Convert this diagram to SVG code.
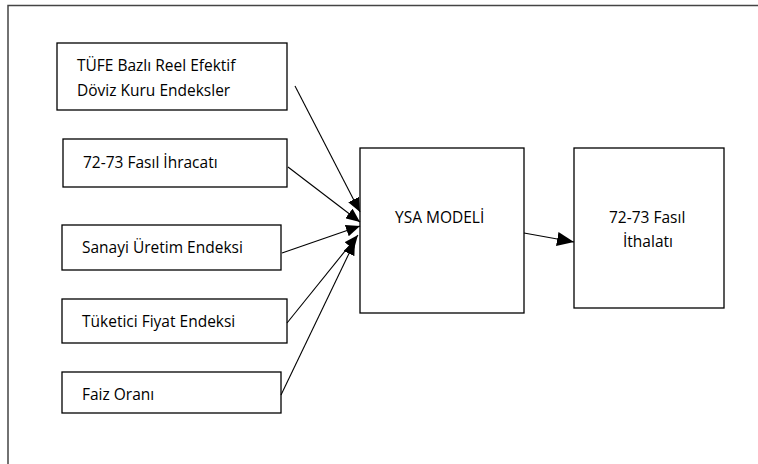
<svg xmlns="http://www.w3.org/2000/svg" width="758" height="464" viewBox="0 0 758 464">
<style>
.box{fill:#fff;stroke:#000;stroke-width:1.3}
.t{font-family:"Open Sans","Liberation Sans",sans-serif;font-size:15.5px;font-weight:400;fill:#000}
.c{stroke:#000;stroke-width:1.1;fill:none}
</style>
<defs>
<marker id="ah" markerUnits="userSpaceOnUse" markerWidth="14" markerHeight="12" refX="14" refY="6" orient="auto" viewBox="0 0 14 12">
<path d="M0,0 L14,6 L0,12 z" fill="#000"/>
</marker>
<marker id="ah2" markerUnits="userSpaceOnUse" markerWidth="17" markerHeight="14" refX="17" refY="7" orient="auto" viewBox="0 0 17 14">
<path d="M0,0 L17,7 L0,14 z" fill="#000"/>
</marker>
</defs>
<rect width="758" height="464" fill="#fff"/>
<rect x="8" y="5.5" width="800" height="500" fill="none" stroke="#444" stroke-width="1.5"/>
<g id="n1"><rect class="box" x="57" y="43" width="230" height="67"/><text class="t" x="77" y="71">TÜFE Bazlı Reel Efektif</text><text class="t" x="77" y="96">Döviz Kuru Endeksler</text></g>
<g id="n2"><rect class="box" x="63" y="139" width="224" height="48"/><text class="t" x="83" y="168">72-73 Fasıl İhracatı</text></g>
<g id="n3"><rect class="box" x="62" y="225" width="219" height="45"/><text class="t" x="82" y="253">Sanayi Üretim Endeksi</text></g>
<g id="n4"><rect class="box" x="62" y="299" width="225" height="44"/><text class="t" x="82" y="327">Tüketici Fiyat Endeksi</text></g>
<g id="n5"><rect class="box" x="62" y="372" width="219" height="41"/><text class="t" x="82" y="400">Faiz Oranı</text></g>
<g id="ysa"><rect class="box" x="360" y="148" width="164" height="165"/><text class="t" x="395" y="223">YSA MODELİ</text></g>
<g id="out"><rect class="box" x="574" y="148" width="150" height="160"/><text class="t" x="609" y="223">72-73 Fasıl</text><text class="t" x="623" y="247">İthalatı</text></g>
<g id="connectors">
<line class="c" x1="295" y1="86" x2="360" y2="212" marker-end="url(#ah)"/>
<line class="c" x1="288" y1="167" x2="360" y2="222" marker-end="url(#ah)"/>
<line class="c" x1="282" y1="253" x2="360" y2="226" marker-end="url(#ah)"/>
<line class="c" x1="287" y1="323" x2="358" y2="235" marker-end="url(#ah)"/>
<line class="c" x1="281" y1="395" x2="355" y2="241" marker-end="url(#ah)"/>
<line class="c" x1="524" y1="233" x2="574" y2="242" marker-end="url(#ah2)"/>
</g>
</svg>
